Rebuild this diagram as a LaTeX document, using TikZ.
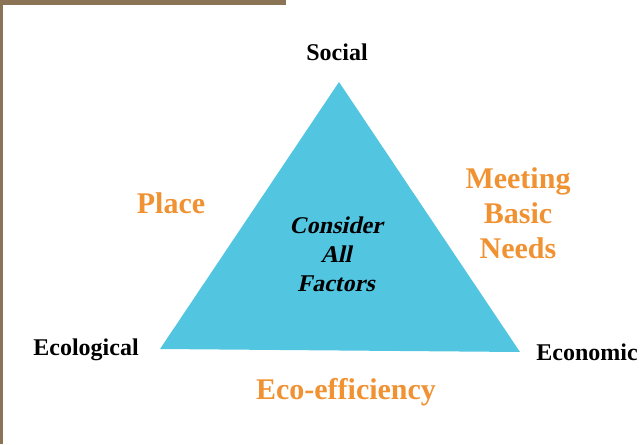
\documentclass[tikz,border=0pt]{standalone}
\usepackage{fontspec}
\setmainfont{Liberation Serif}[BoldItalicFont={Liberation Serif Bold}, BoldItalicFeatures={FakeSlant=0.22}]
\usepackage{tikz}
\tikzset{>=latex}
\usetikzlibrary{positioning}
\definecolor{frameBrown}{RGB}{139,115,85}
\definecolor{triCyan}{RGB}{82,197,224}
\definecolor{labOrange}{RGB}{240,145,50}
\tikzset{
  corner/.style={font=\fontsize{24}{28}\selectfont\bfseries, text=black},
  side/.style={font=\fontsize{30}{35}\selectfont\bfseries, text=labOrange, align=center},
  inner/.style={font=\fontsize{24}{29}\selectfont\bfseries\itshape, text=black, align=center}
}

\begin{document}
\begin{tikzpicture}[x=1pt, y=-1pt]
            \useasboundingbox (0,0) rectangle (644,444);
            % frame bars
            \fill[frameBrown] (0,0) rectangle (286,5);
            \fill[frameBrown] (0,0) rectangle (3,444);

            % triangle
            \coordinate (top) at (339,82);
            \coordinate (left) at (160,349);
            \coordinate (right) at (520,352);
            \fill[triCyan] (top) -- (left) -- (right) -- cycle;

            % corner labels
            \node[corner] (social) at (337,52) {Social};
            \node[corner] (ecological) at (86,350) {Ecological};
            \node[corner] (economic) at (587,352) {Economic};

            % side labels
            \node[side] (place) at (171,203) {Place};
            \node[side] (needs) at (518,213) {Meeting\\Basic\\Needs};
            \node[side] (effic) at (346,392) {Eco-efficiency};

            \node[inner] (factors) at (336,254) {Consider\\All\\Factors};
\end{tikzpicture}
\end{document}
